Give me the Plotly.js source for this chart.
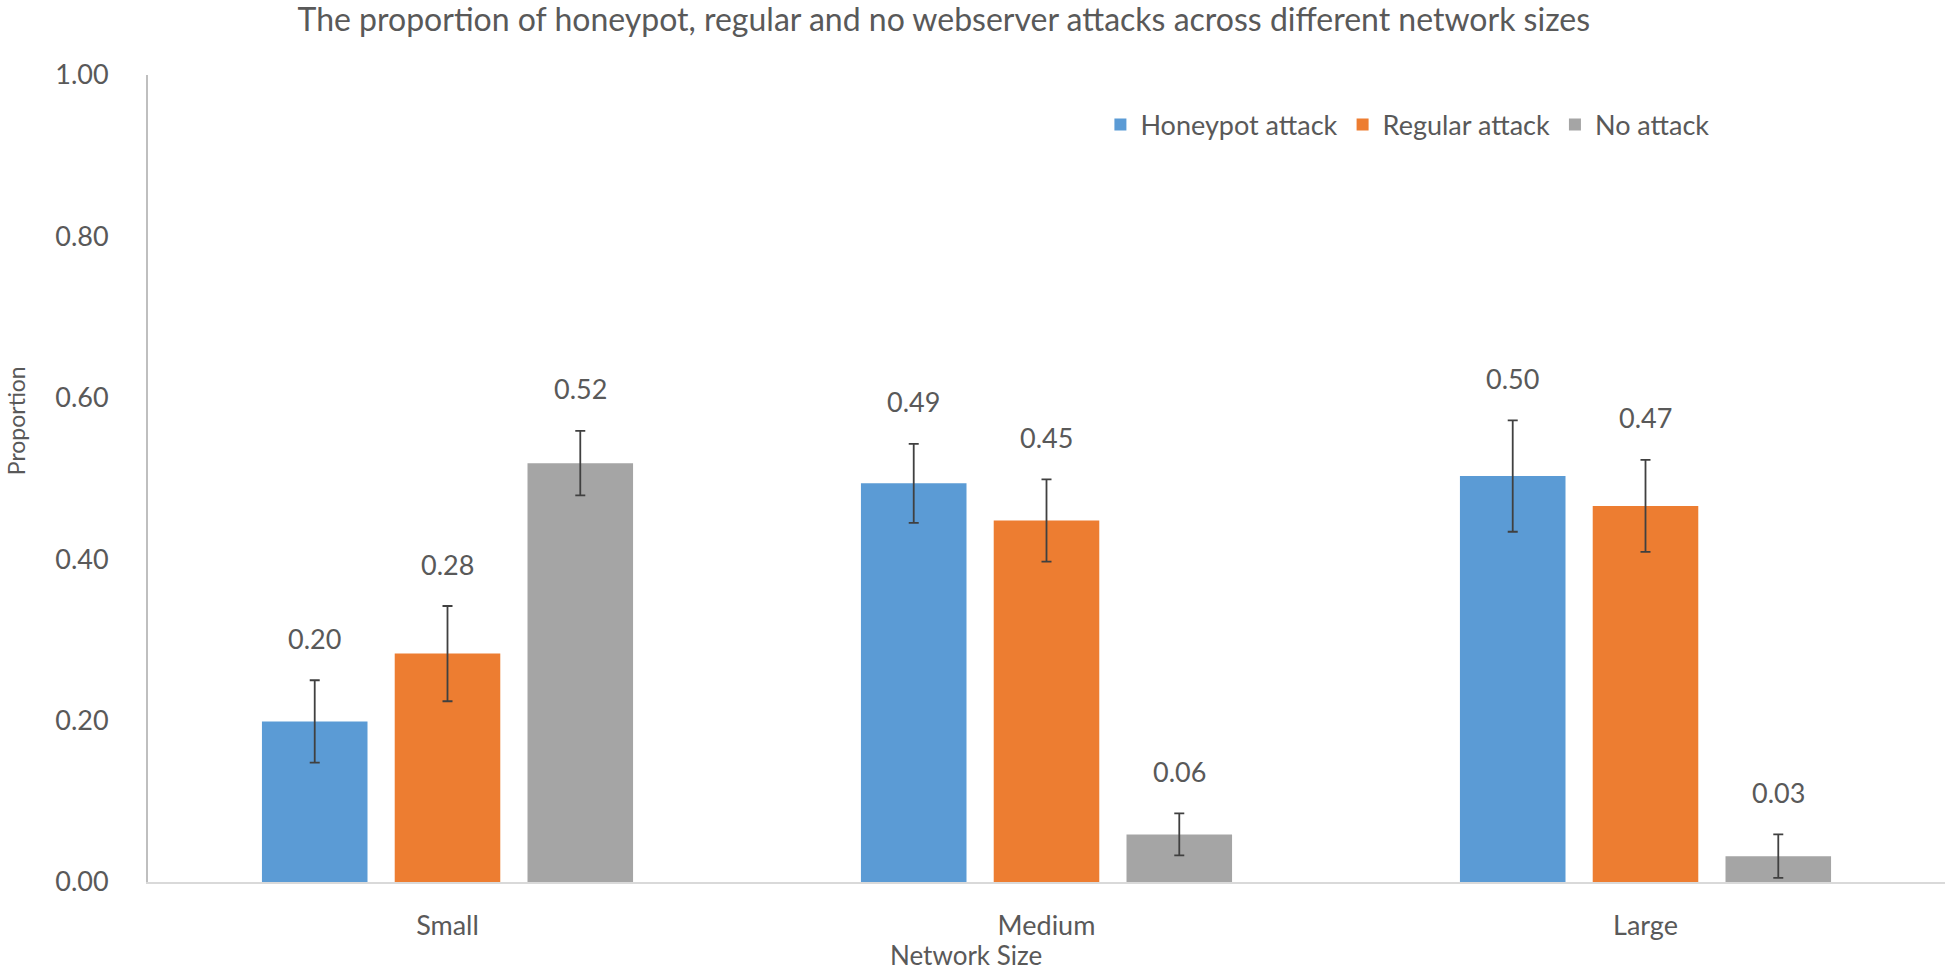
<!DOCTYPE html>
<html>
<head>
<meta charset="utf-8">
<script src="https://cdn.plot.ly/plotly-3.0.1.min.js"></script>
<style>html,body{margin:0;padding:0;background:#fff}#chart{width:1950px;height:972px}</style>
</head>
<body>
<div id="chart"></div>
<script>
const categories = ["Small", "Medium", "Large"];
const seriesNames = ["Honeypot attack", "Regular attack", "No attack"];
const honeypot = [0.199, 0.494, 0.503];
const regular = [0.283, 0.448, 0.466];
const noAttack = [0.519, 0.059, 0.032];
const honeypotErr = [0.051, 0.049, 0.069];
const regularErr = [0.059, 0.051, 0.057];
const noAttackErr = [0.040, 0.026, 0.027];
const yTicks = [0, 0.2, 0.4, 0.6, 0.8, 1.0];

const colors = ["#5B9BD5", "#ED7D31", "#A5A5A5"];
const values = [honeypot, regular, noAttack];
const errs = [honeypotErr, regularErr, noAttackErr];
const textColor = "#595959";
const FONT = "Lato, 'Open Sans', sans-serif";

const bargap = 0.335, bargroupgap = 0.205;
const slot = (1 - bargap) / 3;

const traces = values.map((v, j) => ({
  type: "bar",
  name: seriesNames[j],
  x: categories,
  y: v,
  marker: {color: colors[j], line: {width: 0}},
  error_y: {type: "data", array: errs[j], visible: true, color: "#404040", thickness: 1.8, width: 5},
  hoverinfo: "skip"
}));

const annotations = [];
values.forEach((v, j) => {
  v.forEach((val, i) => {
    annotations.push({
      x: i + (j - 1) * slot, y: val + errs[j][i], xref: "x", yref: "y",
      text: val.toFixed(2), showarrow: false, yanchor: "middle", yshift: 42,
      font: {family: FONT, size: 27, color: textColor}
    });
  });
});
annotations.push({
  text: "Network Size", xref: "paper", yref: "paper", x: 0.455, y: 0, yshift: -73,
  showarrow: false, yanchor: "middle", font: {family: FONT, size: 26, color: textColor}
});
annotations.push({
  text: "Proportion", xref: "paper", yref: "paper", x: 0, xshift: -132, y: 0.571,
  textangle: -90, showarrow: false, xanchor: "center", font: {family: FONT, size: 23, color: textColor}
});

const layout = {
  width: 1950, height: 972,
  margin: {l: 148, r: 5, t: 75, b: 90},
  paper_bgcolor: "#fff", plot_bgcolor: "#fff",
  font: {family: FONT, color: textColor},
  title: {text: "The proportion of honeypot, regular and no webserver attacks across different network sizes",
    x: 0.484, xanchor: "center", xref: "container", y: 0.98, yanchor: "middle", yref: "container",
    font: {family: FONT, size: 32, color: textColor}},
  barmode: "group", bargap: bargap, bargroupgap: bargroupgap,
  xaxis: {type: "category", showline: true, linecolor: "#D9D9D9", linewidth: 2, showgrid: false, zeroline: false,
    ticks: "", ticklabelstandoff: 19, tickfont: {family: FONT, size: 27, color: textColor}, range: [-0.5, 2.5]},
  yaxis: {range: [0, 1], tickvals: yTicks, tickformat: ".2f", showline: true, linecolor: "#BFBFBF", linewidth: 2,
    showgrid: false, zeroline: false, ticks: "", ticklabelstandoff: 32, tickfont: {family: FONT, size: 27, color: textColor}},
  legend: {orientation: "h", x: 0.53, xanchor: "left", y: 0.938, yanchor: "middle",
    font: {family: FONT, size: 27, color: textColor}, bgcolor: "rgba(0,0,0,0)"},
  showlegend: true,
  annotations: annotations
};

Plotly.newPlot("chart", traces, layout, {displayModeBar: false, staticPlot: true});
</script>
</body>
</html>
